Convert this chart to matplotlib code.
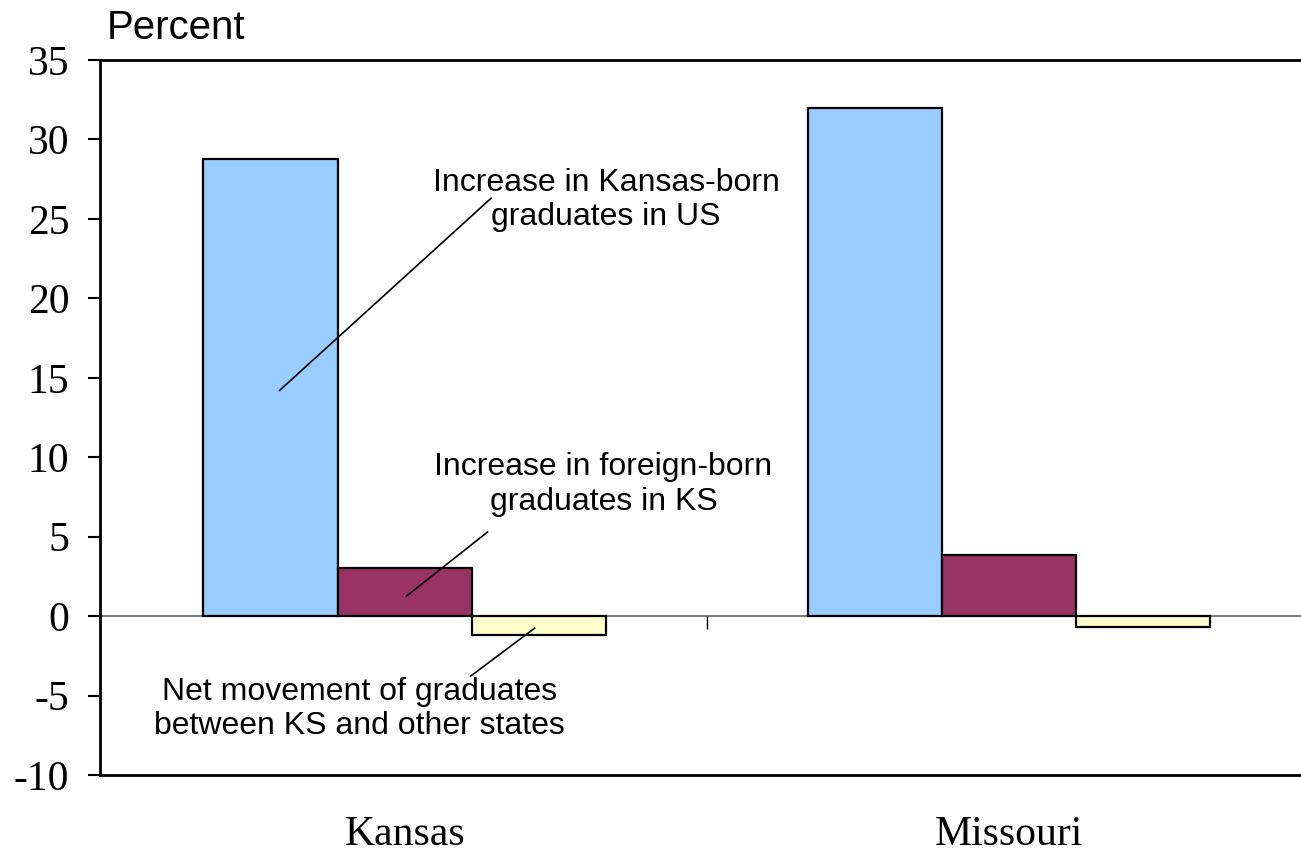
import matplotlib
matplotlib.use("Agg")
import matplotlib.pyplot as plt
import numpy as np

# values (percent)
states = ["Kansas", "Missouri"]
kansas_born_us = [28.8, 32.0]
foreign_born = [3.0, 3.85]
net_movement = [-1.2, -0.7]

colors = ["#99CCFF", "#993366", "#FFFFCC"]
series = [kansas_born_us, foreign_born, net_movement]
bar_w = 0.222

fig = plt.figure(figsize=(13.01, 8.59), dpi=100)
ax = fig.add_axes([100 / 1301, 1 - 775 / 859, 1209 / 1301, 715 / 859])

x = np.arange(len(states))
for i, vals in enumerate(series):
    ax.bar(x + (i - 1) * bar_w, vals, width=bar_w, color=colors[i],
           edgecolor="black", linewidth=1.6, zorder=3)

ax.axhline(0, color="#707070", linewidth=1.3, zorder=2)
# category divider tick on the zero line
ax.vlines(x[:-1] + 0.5, -0.8, 0, color="black", linewidth=1.0, zorder=2)

ax.set_xlim(-0.504, len(states) - 0.504)
ax.set_ylim(-10, 35)
ax.set_yticks(np.arange(-10, 36, 5))
ax.set_yticklabels([str(v) for v in range(-10, 36, 5)],
                   fontfamily="Liberation Serif", fontsize=30)
ax.tick_params(axis="y", direction="out", length=9, width=1.5, pad=13)
ax.set_xticks(x)
ax.set_xticklabels(states, fontfamily="Liberation Serif", fontsize=30)
ax.tick_params(axis="x", length=0, pad=29)

for s in ["left", "top", "bottom"]:
    ax.spines[s].set_linewidth(2)
    ax.spines[s].set_color("black")
ax.spines["right"].set_visible(False)

fig.text(107 / 1301, 1 - 39 / 859, "Percent", fontfamily="Liberation Sans",
         fontsize=29, va="baseline", ha="left")

ann = dict(fontfamily="Liberation Sans", fontsize=23, ha="center",
           va="center", linespacing=1.2, zorder=4)
ax.text(0.333, 26.2, "Increase in Kansas-born\ngraduates in US", **ann)
ax.plot([-0.207, 0.143], [14.2, 26.3], color="black", linewidth=1.2, zorder=4)

ax.text(0.329, 8.3, "Increase in foreign-born\ngraduates in KS", **ann)
ax.plot([0.003, 0.137], [1.26, 5.29], color="black", linewidth=1.2, zorder=4)

ax.text(-0.075, -5.85, "Net movement of graduates\nbetween KS and other states", **ann)
ax.plot([0.109, 0.215], [-3.78, -0.76], color="black", linewidth=1.2, zorder=4)

fig.savefig("out.png", dpi=100)
